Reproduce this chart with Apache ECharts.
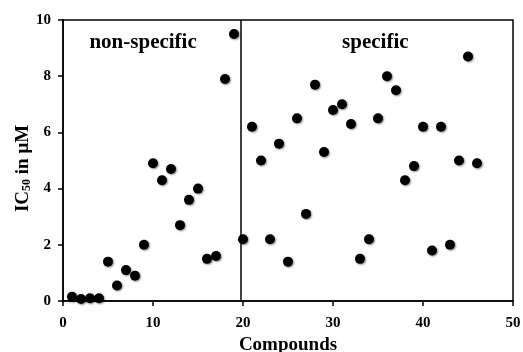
<!DOCTYPE html>
<html>
<head>
<meta charset="utf-8">
<script src="https://cdn.jsdelivr.net/npm/echarts@6/dist/echarts.min.js"></script>
<style>
  html, body { margin: 0; padding: 0; background: #fff; }
  #chart { width: 523px; height: 352px; }
</style>
</head>
<body>
<div id="chart"></div>
<script>
// compound index and measured IC50 (uM)
const compounds = [1, 2, 3, 4, 5, 6, 7, 8, 9, 10, 11, 12, 13, 14, 15, 16, 17, 18, 19, 20,
  21, 22, 23, 24, 25, 26, 27, 28, 29, 30, 31, 32, 33, 34, 35, 36, 37, 38, 39, 40,
  41, 42, 43, 44, 45, 46];
const ic50 = [0.15, 0.07, 0.1, 0.1, 1.4, 0.55, 1.1, 0.9, 2.0, 4.9, 4.3, 4.7, 2.7, 3.6, 4.0, 1.5, 1.6, 7.9, 9.5, 2.2,
  6.2, 5.0, 2.2, 5.6, 1.4, 6.5, 3.1, 7.7, 5.3, 6.8, 7.0, 6.3, 1.5, 2.2, 6.5, 8.0, 7.5, 4.3, 4.8, 6.2,
  1.8, 6.2, 2.0, 5.0, 8.7, 4.9];
const dividerX = 19.7;
const groupLabels = ['non-specific', 'specific'];
const groupLabelPos = [[8.9, 9.2], [34.7, 9.2]];

const font = '"Liberation Serif", "Times New Roman", serif';
const points = compounds.map((c, i) => [c, ic50[i]]);

const chart = echarts.init(document.getElementById('chart'));
chart.setOption({
  animation: false,
  grid: {
    left: 63, right: 10, top: 20, bottom: 51,
    outerBoundsMode: 'none', containLabel: false,
    show: true, borderColor: '#000', borderWidth: 1.5
  },
  xAxis: {
    type: 'value', min: 0, max: 50, interval: 10,
    name: 'Compounds', nameLocation: 'middle', nameGap: 34,
    nameTextStyle: { fontFamily: font, fontWeight: 'bold', fontSize: 19, color: '#000' },
    axisLine: { lineStyle: { color: '#000', width: 1.5 } },
    axisTick: { inside: false, length: 5, lineStyle: { color: '#000', width: 1.5 } },
    axisLabel: { margin: 15, fontFamily: font, fontWeight: 'bold', fontSize: 15, color: '#000' },
    splitLine: { show: false }
  },
  yAxis: {
    type: 'value', min: 0, max: 10, interval: 2,
    name: '{a|IC}{s|50}{a| in μM}', nameLocation: 'middle', nameGap: 30,
    nameMoveOverlap: false,
    nameTextStyle: {
      fontFamily: font, fontWeight: 'bold', fontSize: 19, color: '#000',
      padding: [0, 16, 0, 0],
      rich: {
        a: { fontFamily: font, fontWeight: 'bold', fontSize: 19, color: '#000' },
        s: { fontFamily: font, fontWeight: 'bold', fontSize: 12, color: '#000', padding: [8, 0, 0, 0] }
      }
    },
    axisLine: { lineStyle: { color: '#000', width: 1.5 } },
    axisTick: { inside: false, length: 5, lineStyle: { color: '#000', width: 1.5 } },
    axisLabel: { margin: 12, fontFamily: font, fontWeight: 'bold', fontSize: 15, color: '#000' },
    splitLine: { show: false }
  },
  series: [
    {
      type: 'scatter',
      data: points,
      symbolSize: 10,
      itemStyle: {
        color: '#000', opacity: 1,
        shadowBlur: 2, shadowColor: 'rgba(0,0,0,0.45)', shadowOffsetX: 1, shadowOffsetY: 1
      },
      markLine: {
        silent: true, symbol: 'none', label: { show: false },
        lineStyle: { color: '#000', width: 1.5, type: 'solid', opacity: 1 },
        data: [{ xAxis: dividerX }]
      }
    },
    {
      type: 'scatter',
      data: groupLabelPos.map((p, i) => ({ value: p, name: groupLabels[i] })),
      symbolSize: 0,
      silent: true,
      itemStyle: { opacity: 1 },
      label: {
        show: true, position: 'inside', formatter: '{b}', opacity: 1,
        fontFamily: font, fontWeight: 'bold', fontSize: 21, color: '#000'
      }
    }
  ]
});
</script>
</body>
</html>
